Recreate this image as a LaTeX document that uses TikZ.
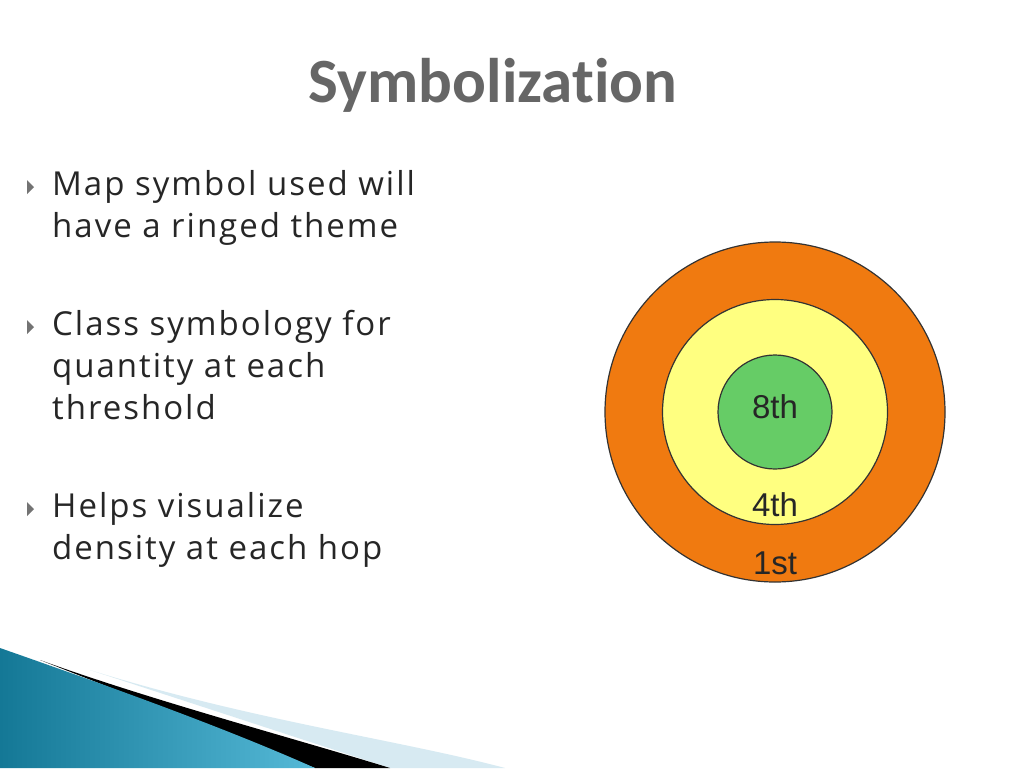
\documentclass[tikz,border=0pt]{standalone}
\usepackage{fontspec}
\setmainfont{Open Sans}[LetterSpace=6]
\newfontfamily\titlefont{Carlito}
\newfontfamily\arialf{Liberation Sans}
\definecolor{tealdark}{RGB}{20,120,150}
\definecolor{teallight}{RGB}{85,185,215}
\definecolor{palebl}{RGB}{215,234,242}
\begin{document}
\begin{tikzpicture}[x=1pt,y=-1pt,
  bul/.style={anchor=north west,align=left,font=\fontsize{33}{42}\selectfont,text=black!85,inner sep=0pt},
  lab/.style={font=\arialf\fontsize{33}{33}\selectfont,text=black!85},
  ring/.style={circle,draw=black!80,line width=1.2pt,inner sep=0pt}]
\useasboundingbox (0,0) rectangle (1024,768);
\fill[white] (0,0) rectangle (1024,768);
% bottom decoration
\fill[palebl] (90,670) .. controls (250,720) and (400,740) .. (505,768) -- (390,768) -- cycle;
\fill[black] (40,660) .. controls (150,700) and (300,740) .. (390,768) -- (315,768) -- cycle;
\shade[left color=tealdark, right color=teallight] (0,648) .. controls (120,690) and (230,730) .. (315,768) -- (0,768) -- cycle;
% title
\node[font=\titlefont\bfseries\fontsize{63}{63}\selectfont,text=black!60] (title) at (493,85) {Symbolizat\kern0pt ion};
% bullets
\foreach \n/\y in {b1/187,b2/327,b3/509}{
  \fill[black!55] (27,\y-7) -- (34,\y) -- (27,\y+7) -- cycle;}
\node[bul] (t1) at (52,170) {Map symbol used will\\have a ringed theme};
\node[bul] (t2) at (52,310) {Class symbology for\\quantity at each\\threshold};
\node[bul] (t3) at (52,492) {Helps visualize\\density at each hop};
% rings
\node[ring,fill={rgb,255:red,240;green,122;blue,16},minimum size=340pt] (outer) at (775,412) {};
\node[ring,fill={rgb,255:red,255;green,255;blue,128},minimum size=225pt] (mid) at (775,412) {};
\node[ring,fill={rgb,255:red,102;green,204;blue,102},minimum size=114pt] (inner) at (775,412) {};
\node[lab] (l8) at (775,407) {8th};
\node[lab] (l4) at (775,505) {4th};
\node[lab] (l1) at (775,563) {1st};
\end{tikzpicture}
\end{document}
